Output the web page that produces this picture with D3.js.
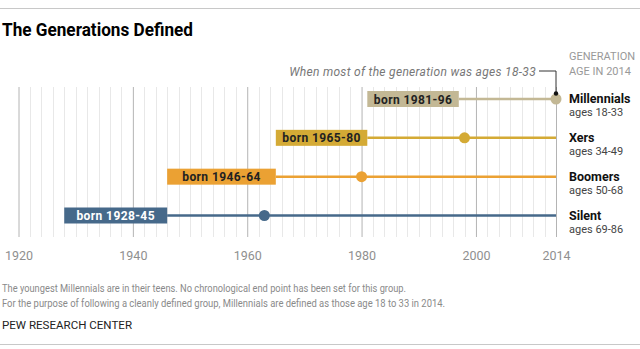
<!DOCTYPE html>
<html>
<head>
<meta charset="utf-8">
<script src="https://cdn.jsdelivr.net/npm/d3@7"></script>
<style>
  html, body { margin: 0; padding: 0; background: #fff; }
  svg { display: block; font-family: Roboto, "Liberation Sans", sans-serif; }
</style>
</head>
<body>
<div id="chart"></div>
<script>
// data
const generations = [`Millennials`, `Xers`, `Boomers`, `Silent`]
const bornStart = [1981, 1965, 1946, 1928]
const bornEnd = [1996, 1980, 1964, 1945]
const midYears = [2014, 1998, 1980, 1963]   // year most of the generation was ages 18-33
const ageLabels = [`ages 18-33`, `ages 34-49`, `ages 50-68`, `ages 69-86`]
const colors = [`#c3b895`, `#d4aa35`, `#eba133`, `#46698a`]
const tickYears = [1920, 1940, 1960, 1980, 2000, 2014]
const endYear = 2014

const footnotes = [
  `The youngest Millennials are in their teens. No chronological end point has been set for this group.`,
  `For the purpose of following a cleanly defined group, Millennials are defined as those age 18 to 33 in 2014.`
]

const width = 640, height = 349

const svg = d3.select(`#chart`).append(`svg`)
  .attr(`width`, width)
  .attr(`height`, height)

// scales
const x = d3.scaleLinear().domain([1920, endYear]).range([18.5, 556])
const y = d3.scalePoint().domain(generations).range([99, 215.5])

const gridTop = 87, gridBottom = 237

// top & bottom rules
svg.append(`line`).attr(`x1`, 0).attr(`x2`, width).attr(`y1`, 8.5).attr(`y2`, 8.5)
  .attr(`stroke`, `#c8c8c8`).attr(`stroke-width`, 1)
svg.append(`line`).attr(`x1`, 0).attr(`x2`, width).attr(`y1`, 344.5).attr(`y2`, 344.5)
  .attr(`stroke`, `#c8c8c8`).attr(`stroke-width`, 1)

// title
svg.append(`text`)
  .attr(`x`, 2).attr(`y`, 36)
  .attr(`font-size`, 18).attr(`font-weight`, `bold`).attr(`fill`, `#000`)
  .attr(`textLength`, 191).attr(`lengthAdjust`, `spacingAndGlyphs`)
  .text(`The Generations Defined`)

// minor grid every 2 years
const minorYears = d3.range(1920, endYear + 1, 2).filter(d => !tickYears.includes(d))
svg.append(`g`).selectAll(`line`).data(minorYears).join(`line`)
  .attr(`x1`, d => Math.round(x(d)) + 0.5).attr(`x2`, d => Math.round(x(d)) + 0.5)
  .attr(`y1`, gridTop).attr(`y2`, gridBottom)
  .attr(`stroke`, `#e8e8e8`).attr(`stroke-width`, 1)

// major axis lines + labels
const axis = d3.axisBottom(x).tickValues(tickYears).tickFormat(d3.format(`d`)).tickSize(0).tickPadding(0)
const axisG = svg.append(`g`).attr(`transform`, `translate(0,${gridBottom})`).call(axis)
axisG.select(`.domain`).remove()
axisG.selectAll(`.tick line`)
  .attr(`y1`, gridTop - gridBottom).attr(`y2`, 0)
  .attr(`stroke`, d => d === 1980 ? `#d0d0d0` : `#b4b4b4`)
  .attr(`stroke-width`, d => d === 1980 ? 1.6 : 1)
axisG.selectAll(`.tick text`)
  .attr(`y`, 22.5).attr(`dy`, 0)
  .attr(`font-family`, `Roboto, sans-serif`)
  .attr(`font-size`, 12.5).attr(`fill`, `#8f8f8f`)

// rows
const rows = svg.append(`g`).selectAll(`g`).data(generations).join(`g`)
  .attr(`transform`, d => `translate(0,${y(d)})`)

// connecting line from end of birth span to 2014
rows.append(`line`)
  .attr(`x1`, (d, i) => x(bornEnd[i] + 1)).attr(`x2`, x(endYear))
  .attr(`stroke`, (d, i) => colors[i]).attr(`stroke-width`, 2.5)

// birth span bar
const barH = 16
rows.append(`rect`)
  .attr(`x`, (d, i) => x(bornStart[i]))
  .attr(`width`, (d, i) => x(bornEnd[i] + 1) - x(bornStart[i]))
  .attr(`y`, -barH / 2).attr(`height`, barH)
  .attr(`fill`, (d, i) => colors[i])

rows.append(`text`)
  .attr(`x`, (d, i) => (x(bornStart[i]) + x(bornEnd[i] + 1)) / 2)
  .attr(`y`, 4.5)
  .attr(`text-anchor`, `middle`)
  .attr(`font-size`, 12).attr(`font-weight`, `bold`)
  .attr(`letter-spacing`, 0.4)
  .attr(`fill`, (d, i) => i === 3 ? `#fff` : `#222`)
  .text((d, i) => `born ${bornStart[i]}-${String(bornEnd[i]).slice(2)}`)

// dot when generation was ages 18-33
rows.append(`circle`)
  .attr(`cx`, (d, i) => x(midYears[i]))
  .attr(`r`, 5.5)
  .attr(`fill`, (d, i) => colors[i])

// labels on the right
rows.append(`text`)
  .attr(`x`, 569).attr(`y`, 4)
  .attr(`font-size`, 12.5).attr(`font-weight`, `bold`).attr(`fill`, `#111`)
  .text(d => d)
rows.append(`text`)
  .attr(`x`, 569).attr(`y`, 17)
  .attr(`font-size`, 11).attr(`fill`, `#444`)
  .text((d, i) => ageLabels[i])

// header over labels
svg.append(`text`).attr(`x`, 569).attr(`y`, 60)
  .attr(`font-size`, 11).attr(`fill`, `#999`).text(`GENERATION`)
svg.append(`text`).attr(`x`, 569).attr(`y`, 75)
  .attr(`font-size`, 11).attr(`fill`, `#999`).text(`AGE IN 2014`)

// annotation for the dots
const ax = x(endYear), ay = y(generations[0]) - 5.5
svg.append(`path`)
  .attr(`d`, `M${ax},${ay} V71 H539`)
  .attr(`fill`, `none`).attr(`stroke`, `#333`).attr(`stroke-width`, 1)
svg.append(`circle`).attr(`cx`, ax).attr(`cy`, ay).attr(`r`, 2.2).attr(`fill`, `#111`)
svg.append(`text`)
  .attr(`x`, 536).attr(`y`, 75.5)
  .attr(`text-anchor`, `end`)
  .attr(`font-size`, 12).attr(`font-style`, `italic`).attr(`fill`, `#777`)
  .attr(`letter-spacing`, 0.3)
  .text(`When most of the generation was ages 18-33`)

// footnotes
svg.append(`g`).selectAll(`text`).data(footnotes).join(`text`)
  .attr(`x`, 2).attr(`y`, (d, i) => 291.5 + i * 15)
  .attr(`font-size`, 11).attr(`fill`, `#8a8a8a`)
  .attr(`textLength`, (d, i) => i === 0 ? 404 : 443)
  .attr(`lengthAdjust`, `spacingAndGlyphs`)
  .text(d => d)

svg.append(`text`)
  .attr(`x`, 2).attr(`y`, 328.5)
  .attr(`font-size`, 11).attr(`fill`, `#222`)
  .attr(`textLength`, 130).attr(`lengthAdjust`, `spacingAndGlyphs`)
  .text(`PEW RESEARCH CENTER`)
</script>
</body>
</html>
